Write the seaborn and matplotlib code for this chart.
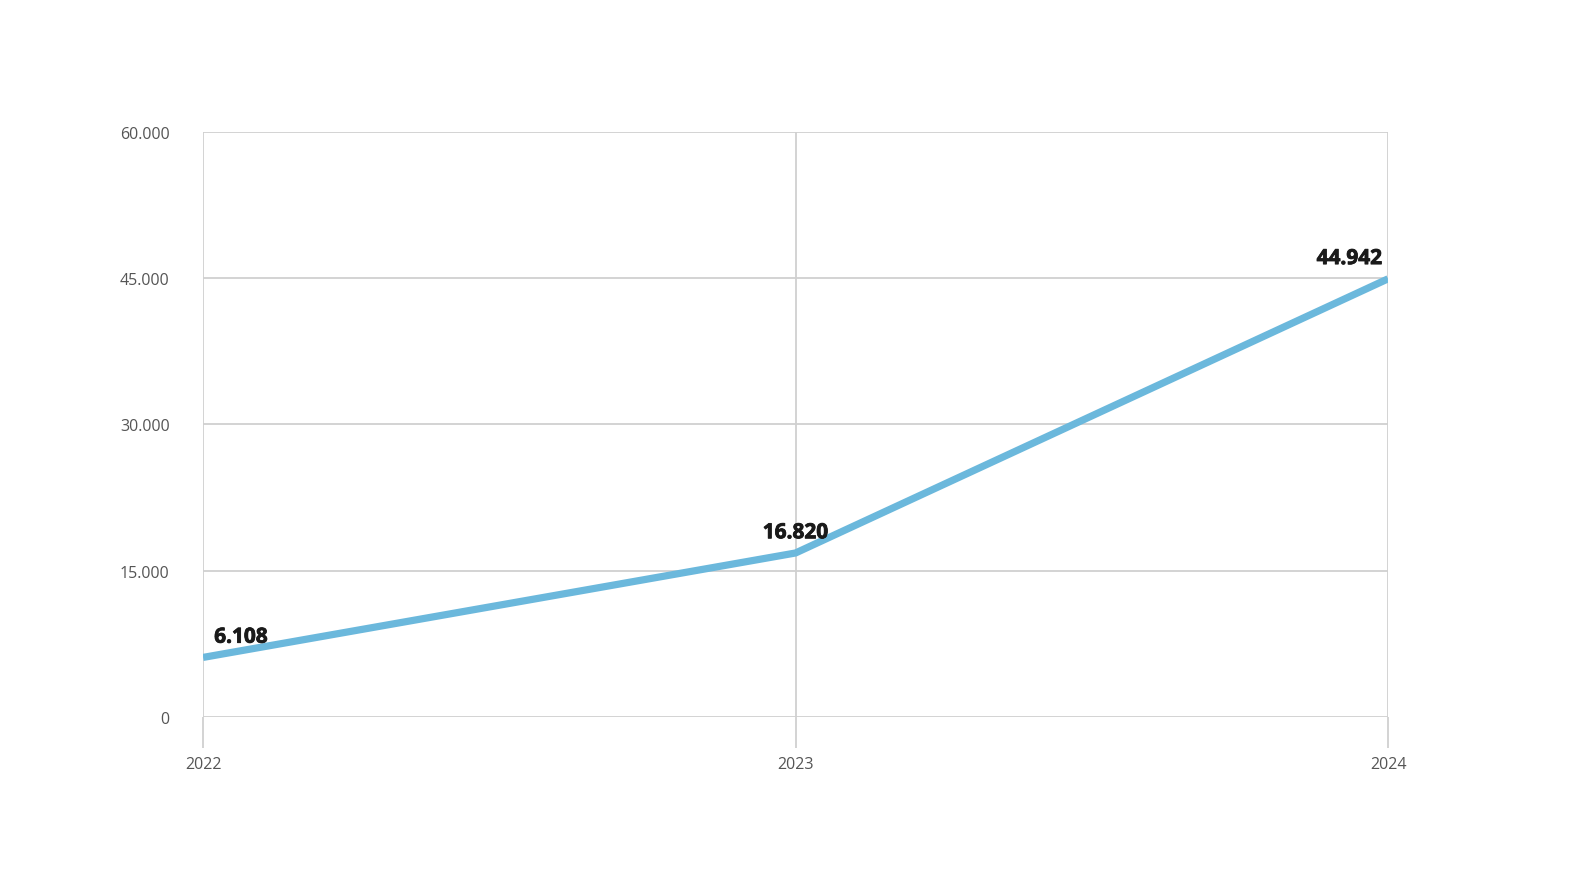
import matplotlib
matplotlib.use("Agg")
import matplotlib.pyplot as plt
import matplotlib.patheffects as pe
from matplotlib.ticker import FuncFormatter
import seaborn as sns
import pandas as pd

# data
years = [2022, 2023, 2024]
values = [6108, 16820, 44942]
y_ticks = [0, 15000, 30000, 45000, 60000]

df = pd.DataFrame({"Year": years, "Value": values})

sns.set_style("white")
plt.rcParams["font.family"] = ["Open Sans", "DejaVu Sans"]

fig = plt.figure(figsize=(15.84, 8.95), dpi=100)
ax = fig.add_axes([0.1282, 0.1978, 0.7481, 0.6536])

sns.lineplot(data=df, x="Year", y="Value", ax=ax, color="#6bb8dc",
             linewidth=5.2, solid_capstyle="butt", zorder=3)

ax.set_xlim(years[0], years[-1])
ax.set_ylim(0, 60000)
ax.set_xticks(years)
ax.set_yticks(y_ticks)
ax.yaxis.set_major_formatter(FuncFormatter(lambda v, p: f"{int(v):,}".replace(",", ".")))

ax.grid(True, color="#d0d0d0", linewidth=1.3)
ax.set_axisbelow(True)
for s in ax.spines.values():
    s.set_visible(False)

ax.tick_params(axis="y", length=0, pad=24, labelsize=11.5, labelcolor="#555555")
ax.tick_params(axis="x", bottom=True, direction="out", length=22, width=1.3,
               color="#d0d0d0", pad=6, labelsize=11.5, labelcolor="#555555")
ax.set_xlabel("")
ax.set_ylabel("")

# value labels
aligns = ["left", "center", "right"]
offsets = [(8, 7), (0, 7), (-4, 7)]
for x, y, ha, off in zip(years, values, aligns, offsets):
    ax.annotate(f"{y:,}".replace(",", "."), (x, y), xytext=off,
                textcoords="offset points", ha=ha, va="bottom",
                fontsize=15, fontweight="bold", color="#1a1a1a",
                path_effects=[pe.withStroke(linewidth=0.6, foreground="#1a1a1a")],
                zorder=4)

plt.savefig("out.png", dpi=100)
plt.close()
